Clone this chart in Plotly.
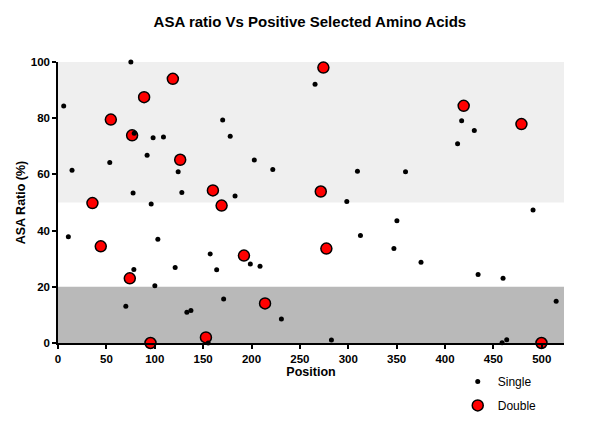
import plotly.graph_objects as go

# Single positive-selected sites
single_pos = [5.9, 10.7, 14.5, 53.5, 70.1, 75.3, 77.6, 78.4, 78.8, 92.1, 96.3, 98.3, 100.1, 103.2,
              109.0, 121.1, 124.2, 128.0, 133.2, 137.4, 155.2, 157.3, 164.0, 170.2, 171.2, 178.0,
              183.0, 198.8, 202.9, 208.8, 222.0, 230.9, 265.7, 282.6, 298.5, 309.5, 312.6, 347.2,
              350.3, 359.2, 375.2, 413.0, 417.2, 430.3, 434.2, 459.0, 460.0, 463.8, 491.0, 514.9]
single_asa = [84.3, 37.8, 61.5, 64.2, 13.1, 100.0, 53.4, 26.2, 74.6, 66.8, 49.5, 73.0, 20.4, 36.9,
              73.3, 26.9, 60.9, 53.6, 10.9, 11.6, 0.0, 31.7, 26.1, 79.4, 15.7, 73.6,
              52.3, 28.1, 65.1, 27.3, 61.7, 8.5, 92.1, 1.1, 50.4, 61.1, 38.3, 33.6,
              43.5, 60.9, 28.7, 70.9, 79.1, 75.6, 24.4, 0.1, 23.0, 1.2, 47.3, 14.9]

# Double positive-selected sites
double_pos = [35.6, 44.2, 54.6, 74.2, 76.6, 89.0, 95.6, 118.7, 126.3, 152.9, 160.1, 169.1,
              192.2, 214.0, 271.6, 274.3, 277.4, 419.3, 479.0, 499.7]
double_asa = [49.8, 34.4, 79.5, 23.0, 73.9, 87.5, 0.0, 94.0, 65.2, 2.0, 54.3, 48.9,
              31.1, 14.1, 53.9, 98.0, 33.6, 84.4, 77.9, 0.0]

# Shaded ASA bands
exposed_band = [50, 100]
buried_band = [0, 20]

x_ticks = [0, 50, 100, 150, 200, 250, 300, 350, 400, 450, 500]
y_ticks = [0, 20, 40, 60, 80, 100]

FONT = "Arial, 'Liberation Sans', sans-serif"

fig = go.Figure()
fig.add_trace(go.Scatter(
    x=double_pos, y=double_asa, mode="markers", name="Double",
    legendgroup="d", legendrank=2,
    marker=dict(color="#ff0000", size=11, line=dict(color="black", width=1.5)),
    cliponaxis=False,
))
fig.add_trace(go.Scatter(
    x=single_pos, y=single_asa, mode="markers", name="Single",
    legendgroup="s", legendrank=1,
    marker=dict(color="black", size=5),
    cliponaxis=False,
))

fig.add_shape(type="rect", xref="paper", yref="y", x0=0, x1=1,
              y0=exposed_band[0], y1=exposed_band[1],
              fillcolor="#efefef", line=dict(width=0), layer="below")
fig.add_shape(type="rect", xref="paper", yref="y", x0=0, x1=1,
              y0=buried_band[0], y1=buried_band[1],
              fillcolor="#b9b9b9", line=dict(width=0), layer="below")

# The page places the figure 8px from the top-left corner (body margin),
# so the figure is 8px smaller in each direction to fit the 600x424 window.
fig.update_layout(
    width=592, height=416,
    margin=dict(l=50, r=36, t=54, b=81, autoexpand=False),
    paper_bgcolor="white", plot_bgcolor="white",
    font=dict(family=FONT, color="black"),
    title=dict(text="<b>ASA ratio Vs Positive Selected Amino Acids</b>",
               x=0.510, xanchor="center", y=0.967, yanchor="middle",
               font=dict(size=15, family=FONT, color="black")),
    showlegend=True,
    legend=dict(x=0.79, xanchor="left", y=-0.085, yanchor="top",
                bgcolor="rgba(0,0,0,0)", tracegroupgap=5,
                traceorder="grouped",
                font=dict(size=12, family=FONT, color="black")),
    xaxis=dict(
        range=[0, 523], tickvals=x_ticks, showgrid=False, zeroline=False,
        showline=True, linecolor="black", linewidth=1.5,
        ticks="outside", ticklen=4, tickwidth=1.5, tickcolor="black",
        tickfont=dict(size=11.5, family=FONT, color="black", weight="bold"),
        title=dict(text="<b>Position</b>", standoff=4,
                   font=dict(size=12.5, family=FONT, color="black")),
    ),
    yaxis=dict(
        range=[0, 100], tickvals=y_ticks, showgrid=False, zeroline=False,
        showline=True, linecolor="black", linewidth=1.5,
        ticks="outside", ticklen=4, tickwidth=1.5, tickcolor="black",
        tickfont=dict(size=11.5, family=FONT, color="black", weight="bold"),
        title=dict(text="<b>ASA Ratio (%)</b>", standoff=2,
                   font=dict(size=12.5, family=FONT, color="black")),
    ),
)

fig.write_html("out.html")
